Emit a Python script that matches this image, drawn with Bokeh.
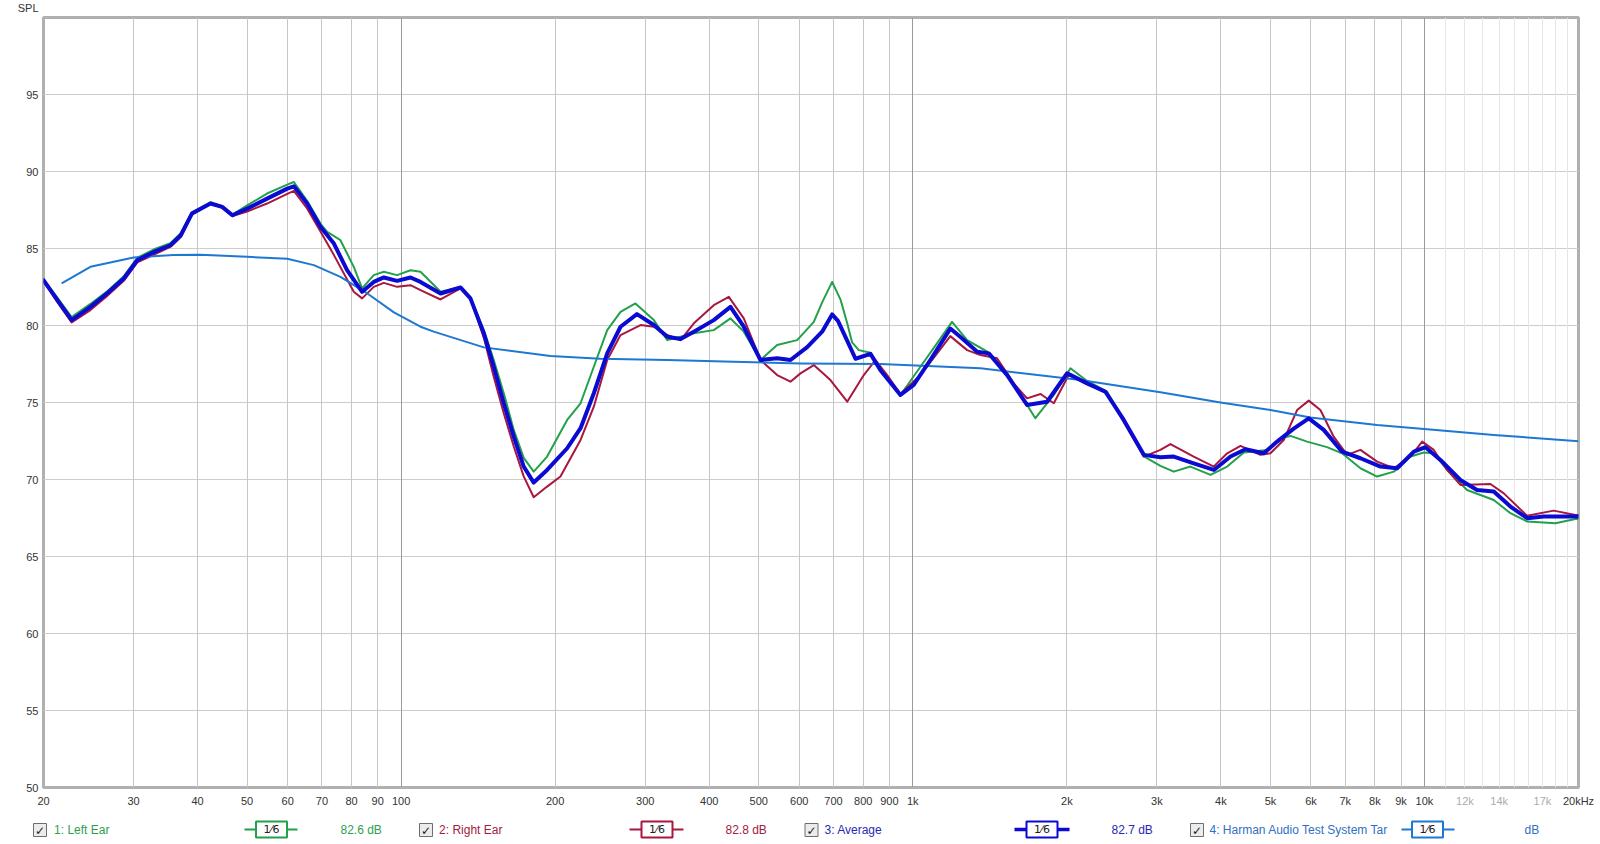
from bokeh.plotting import figure
from bokeh.models import FixedTicker, Grid, Range1d
from bokeh.layouts import column
from bokeh.embed import file_html
from bokeh.resources import INLINE
from bokeh.core.properties import value

# ---------------- data ----------------
left_freq = [20.0, 21.3, 22.7, 24.7, 26.6, 28.7, 30.5, 32.9, 35.4, 37.1, 39.0, 42.4, 44.7, 46.8, 50.0,
             54.7, 59.9, 61.7, 65.5, 69.6, 71.7, 76.1, 80.8, 83.9, 88.4, 92.5, 98.2, 104.3, 109.1, 119.4,
             130.6, 136.6, 145.1, 151.7, 158.7, 166.0, 173.6, 181.6, 192.9, 211.1, 224.2, 238.0, 252.8,
             268.4, 287.0, 311.8, 331.2, 351.6, 373.3, 408.3, 440.2, 467.4, 503.8, 543.0, 594.3, 640.5,
             665.0, 695.6, 722.0, 744.4, 761.0, 784.2, 826.6, 864.6, 945.9, 1035, 1115, 1193, 1277, 1398,
             1529, 1736, 1886, 2033, 2191, 2397, 2584, 2828, 3047, 3236, 3488, 3818, 4116, 4436, 4925, 5229,
             5470, 5897, 6450, 6903, 7496, 8082, 8711, 9392, 9970, 10427, 11073, 12113, 13660, 14724, 15874,
             18025, 19720, 20000]
left_spl = [83.0, 81.8, 80.55, 81.4, 82.2, 83.2, 84.4, 84.95, 85.35, 86.0, 87.35, 88.0, 87.75, 87.2, 87.8,
            88.57, 89.15, 89.32, 88.1, 86.6, 86.08, 85.54, 83.81, 82.41, 83.27, 83.49, 83.27, 83.59, 83.49, 82.19,
            82.51, 81.76, 79.7, 77.76, 75.6, 73.22, 71.4, 70.51, 71.49, 73.87, 74.95, 77.32, 79.7,
            80.89, 81.43, 80.35, 79.05, 79.27, 79.49, 79.7, 80.46, 79.6, 77.76, 78.73, 79.05, 80.24,
            81.5, 82.83, 81.7, 80.14, 78.9, 78.4, 78.23, 77.1, 75.49, 77.32, 78.84, 80.24, 79.05, 78.3,
            76.89, 73.98, 75.49, 77.22, 76.4, 75.7, 73.87, 71.5, 70.88, 70.51, 70.84, 70.3, 70.84, 71.75, 71.92, 72.68,
            72.83, 72.46, 72.1, 71.7, 70.73, 70.19, 70.51, 71.49, 71.75, 71.7, 70.62, 69.32, 68.67, 67.81, 67.27,
            67.16, 67.43, 67.43]

right_freq = [20.0, 21.3, 22.7, 24.7, 26.6, 28.7, 30.5, 32.9, 35.4, 37.1, 39.0, 42.4, 44.7, 46.8, 50.0,
              54.7, 59.9, 61.7, 65.5, 69.6, 73.9, 80.8, 83.9, 88.4, 92.5, 98.2, 104.3, 109.1, 119.4,
              130.6, 136.6, 145.1, 151.7, 158.7, 166.0, 173.6, 181.6, 192.9, 204.8, 224.2, 238.0, 252.8,
              268.4, 293.7, 311.8, 331.2, 351.6, 373.3, 408.3, 436.9, 467.4, 503.8, 543.0, 576.6, 603.2,
              640.5, 690.3, 744.4, 802.1, 845.4, 891.0, 945.9, 1035, 1184, 1277, 1356, 1461, 1575, 1672,
              1777, 1886, 2017, 2397, 2828, 3047, 3188, 3540, 3876, 4116, 4370, 4779, 5000, 5308, 5637,
              5941, 6260, 6647, 7060, 7496, 8082, 8711, 9392, 9897, 10427, 11073, 11754, 13456, 14290,
              15874, 17890, 19720, 20000]
right_spl = [82.9, 81.5, 80.2, 81.0, 81.9, 82.9, 84.1, 84.6, 85.1, 85.75, 87.2, 87.9, 87.65, 87.1, 87.4,
             87.92, 88.55, 88.74, 87.6, 86.08, 84.57, 82.19, 81.76, 82.51, 82.77, 82.51, 82.62, 82.3, 81.69,
             82.41, 81.76, 79.2, 76.67, 74.3, 72.14, 70.2, 68.85, 69.54, 70.19, 72.57, 74.73, 77.76,
             79.38, 80.03, 79.92, 79.38, 79.05, 80.14, 81.32, 81.86, 80.46, 77.76, 76.78, 76.35, 76.89,
             77.43, 76.46, 75.05, 76.78, 77.76, 76.78, 75.55, 76.78, 79.31, 78.4, 78.08, 77.87, 76.24, 75.27,
             75.55, 74.95, 76.78, 75.6, 71.49, 71.92, 72.3, 71.49, 70.84, 71.7, 72.18, 71.6, 71.7, 72.56, 74.51,
             75.12, 74.51, 72.78, 71.6, 71.92, 71.16, 70.73, 71.49, 72.46, 71.92, 70.62, 69.65, 69.71, 69.1,
             67.64, 67.98, 67.7, 67.7]

avg_freq = [20.0, 21.3, 22.7, 24.7, 26.6, 28.7, 30.5, 32.9, 35.4, 37.1, 39.0, 42.4, 44.7, 46.8, 50.0,
            54.7, 59.9, 61.7, 65.5, 69.6, 73.9, 78.4, 83.9, 88.4, 92.5, 98.2, 104.3, 109.1, 119.4, 130.6,
            136.6, 145.1, 151.7, 158.7, 166.0, 173.6, 181.6, 192.9, 211.1, 224.2, 238.0, 252.8, 268.4,
            289.0, 311.8, 331.2, 351.6, 373.3, 408.3, 440.2, 467.4, 503.8, 543.0, 576.7, 621.7, 665.0, 695.6,
            714.0, 733.0, 772.7, 826.6, 864.6, 945.9, 1004, 1082, 1184, 1249, 1336, 1408, 1529, 1672, 1830, 2003,
            2191, 2379, 2584, 2828, 3047, 3236, 3540, 3876, 4178, 4468, 4851, 5152, 5552, 5941, 6354, 6903,
            7496, 8204, 8844, 9534, 10045, 10745, 11754, 12670, 13660, 14724, 15874, 17100, 18300, 20000]
avg_spl = [82.94, 81.65, 80.35, 81.21, 82.08, 83.05, 84.24, 84.78, 85.21, 85.86, 87.27, 87.92, 87.7, 87.16, 87.59,
           88.24, 88.89, 89.04, 87.92, 86.4, 85.32, 83.59, 82.19, 82.83, 83.12, 82.9, 83.12, 82.83, 82.08, 82.47,
           81.76, 79.49, 77.32, 74.95, 72.78, 70.84, 69.8, 70.62, 72.03, 73.33, 75.6, 78.19, 79.92,
           80.74, 80.03, 79.27, 79.12, 79.6, 80.35, 81.21, 79.92, 77.76, 77.87, 77.76, 78.6, 79.6, 80.72,
           80.3, 79.49, 77.84, 78.16, 77.1, 75.49, 76.14, 77.76, 79.8, 79.16, 78.3, 78.19, 76.78, 74.84, 75.05, 76.9,
           76.24, 75.7, 73.87, 71.6, 71.44, 71.49, 71.05, 70.62, 71.49, 71.96, 71.7, 72.46, 73.3, 73.97, 73.22, 71.81,
           71.38, 70.84, 70.73, 71.81, 72.1, 71.27, 69.97, 69.32, 69.22, 68.24, 67.49, 67.6, 67.6, 67.6]

target_freq = [21.7, 24.7, 30.0, 35.9, 40.5, 50.0, 59.9, 67.5, 76.1, 85.9, 96.8, 109.1, 115.8, 145.1,
               195.8, 245.3, 331.2, 446.8, 603.2, 864.6, 1356, 2127, 3047, 3993, 5000, 5985, 8082, 10120,
               13660, 19720, 20000]
target_spl = [82.73, 83.81, 84.42, 84.57, 84.59, 84.46, 84.33, 83.92, 83.16, 82.08, 80.85, 79.92, 79.6, 78.58,
              78.02, 77.84, 77.76, 77.65, 77.54, 77.5, 77.22, 76.46, 75.66, 75.0, 74.51, 74.03, 73.54, 73.26,
              72.89, 72.5, 72.48]

x_ticks = [20, 30, 40, 50, 60, 70, 80, 90, 100, 200, 300, 400, 500, 600, 700, 800, 900,
           1000, 2000, 3000, 4000, 5000, 6000, 7000, 8000, 9000, 10000, 20000]
x_tick_labels = ["20", "30", "40", "50", "60", "70", "80", "90", "100", "200", "300", "400", "500",
                 "600", "700", "800", "900", "1k", "2k", "3k", "4k", "5k", "6k", "7k", "8k", "9k",
                 "10k", "20kHz"]
x_faint_ticks = [12000, 14000, 17000]
x_faint_labels = ["12k", "14k", "17k"]
y_ticks = [50, 55, 60, 65, 70, 75, 80, 85, 90, 95]

legend_names = ["1: Left Ear", "2: Right Ear", "3: Average", "4: Harman Audio Test System Tar"]
legend_levels = ["82.6 dB", "82.8 dB", "82.7 dB", "dB"]
legend_smoothing = ["1\u20446", "1\u20446", "1\u20446", "1\u20446"]

# ---------------- styles / layout ----------------
C_LEFT = "#23a04a"
C_RIGHT = "#a8173e"
C_AVG = "#0a0ad2"
C_TGT = "#1e78d2"
TXT_LEFT = "#2e9e4f"
TXT_RIGHT = "#a3203f"
TXT_AVG = "#2828b4"
TXT_TGT = "#2f70c4"
FONT = "Liberation Sans"
W = 1600
FRAME_L, FRAME_R = 43, 1578
X_LO, X_HI = 20, 20000


def strip(height, **kw):
    f = figure(width=W, height=height, toolbar_location=None, output_backend="svg",
               min_border=0, outline_line_color=None, background_fill_color="white",
               border_fill_color="white", frame_align=False, **kw)
    f.grid.visible = False
    return f


# ---- top strip: "SPL" ----
top = strip(12, x_range=Range1d(0, W), y_range=Range1d(12, 0), x_axis_type=None, y_axis_type=None)
top.text(x=[38], y=[7], text=["SPL"], text_align="right", text_baseline="middle",
         text_font=value(FONT), text_font_size="11px", text_color="#333333")

# ---- main plot ----
p = figure(width=W, height=782, x_axis_type="log", x_axis_location=None,
           x_range=Range1d(X_LO, X_HI), y_range=Range1d(50, 100),
           toolbar_location=None, output_backend="svg", frame_align=False,
           min_border_left=FRAME_L, min_border_right=W - FRAME_R, min_border_top=5, min_border_bottom=7,
           background_fill_color="white", border_fill_color="white",
           outline_line_color="#b0b0b0", outline_line_width=3)

minor_db = [v for v in range(51, 100) if v % 5 != 0]
p.add_layout(Grid(dimension=1, ticker=FixedTicker(ticks=minor_db), grid_line_color="#e3e3e3", grid_line_width=1))
p.ygrid.ticker = FixedTicker(ticks=list(range(50, 101, 5)))
p.ygrid.grid_line_color = "#cdcdcd"
p.ygrid.grid_line_width = 1

upper_k = [11000, 12000, 13000, 14000, 15000, 16000, 17000, 18000, 19000]
normal_v = [20, 30, 40, 50, 60, 70, 80, 90, 200, 300, 400, 500, 600, 700, 800, 900,
            2000, 3000, 4000, 5000, 6000, 7000, 8000, 9000]
p.add_layout(Grid(dimension=0, ticker=FixedTicker(ticks=upper_k), grid_line_color="#e6e6e6", grid_line_width=1))
p.add_layout(Grid(dimension=0, ticker=FixedTicker(ticks=normal_v), grid_line_color="#c6c6c6", grid_line_width=1))
p.add_layout(Grid(dimension=0, ticker=FixedTicker(ticks=[100, 1000, 10000]), grid_line_color="#9a9a9a", grid_line_width=1))

p.yaxis.ticker = FixedTicker(ticks=y_ticks, minor_ticks=[])
p.yaxis.axis_line_color = None
p.yaxis.major_tick_line_color = None
p.yaxis.minor_tick_line_color = None
p.yaxis.major_tick_out = 0
p.yaxis.major_tick_in = 0
p.yaxis.major_label_text_font = FONT
p.yaxis.major_label_text_font_size = "11px"
p.yaxis.major_label_text_color = "#333333"
p.yaxis.major_label_standoff = 5

p.line(left_freq, left_spl, line_color=C_LEFT, line_width=2, line_join="round")
p.line(right_freq, right_spl, line_color=C_RIGHT, line_width=2, line_join="round")
p.line(target_freq, target_spl, line_color=C_TGT, line_width=2, line_join="round")
p.line(avg_freq, avg_spl, line_color=C_AVG, line_width=4, line_join="round", line_cap="round")

# ---- tick-label strip (same log mapping as the main frame, frame widened to the page) ----
decade_px = (FRAME_R - FRAME_L) / 3.0
tk_lo = X_LO / 10 ** (FRAME_L / decade_px)
tk_hi = X_HI * 10 ** ((W - FRAME_R) / decade_px)
tk = strip(16, x_axis_type="log", x_axis_location=None, y_axis_location=None,
           x_range=Range1d(tk_lo, tk_hi), y_range=Range1d(16, 0))
tk.text(x=x_ticks, y=[6.5] * len(x_ticks), text=x_tick_labels, text_align="center", text_baseline="middle",
        text_font=value(FONT), text_font_size="11px", text_color="#333333")
tk.text(x=x_faint_ticks, y=[6.5] * len(x_faint_ticks), text=x_faint_labels, text_align="center",
        text_baseline="middle", text_font=value(FONT), text_font_size="11px", text_color="#ababab")

# ---- legend strip ----
lg = strip(34, x_range=Range1d(0, W), y_range=Range1d(34, 0), x_axis_type=None, y_axis_type=None)

box_cx = [39.5, 425.5, 811, 1196.5]
name_x = [53.6, 438.6, 824, 1209]
icon_x0 = [244, 629, 1014, 1401]
icon_x1 = [297, 683, 1069, 1454]
icon_bx = [271, 656.5, 1041.5, 1427]
level_x = [340, 725, 1111, 1524]
line_cols = [C_LEFT, C_RIGHT, C_AVG, C_TGT]
text_cols = [TXT_LEFT, TXT_RIGHT, TXT_AVG, TXT_TGT]
icon_w = [2, 2, 3.5, 2]
ly = 19

for i in range(4):
    lg.rect(x=box_cx[i], y=ly + 0.5, width=13, height=13, fill_color="#ececec",
            line_color="#6e6e6e", line_width=1)
    lg.text(x=[box_cx[i]], y=[ly + 1], text=["\u2713"], text_align="center", text_baseline="middle",
            text_font=value("DejaVu Sans"), text_font_size="12px", text_color="#202020",
            text_font_style="bold")
    lg.text(x=[name_x[i]], y=[ly], text=[legend_names[i]], text_align="left", text_baseline="middle",
            text_font=value(FONT), text_font_size="12px", text_color=text_cols[i])
    lg.segment(x0=icon_x0[i], y0=ly, x1=icon_x1[i], y1=ly, line_color=line_cols[i], line_width=icon_w[i])
    lg.rect(x=icon_bx[i], y=ly, width=31, height=16, fill_color="white",
            line_color=line_cols[i], line_width=2)
    lg.text(x=[icon_bx[i]], y=[ly], text=[legend_smoothing[i]], text_align="center", text_baseline="middle",
            text_font=value("DejaVu Sans"), text_font_size="11px", text_color="#202020")
    lg.text(x=[level_x[i]], y=[ly], text=[legend_levels[i]], text_align="left", text_baseline="middle",
            text_font=value(FONT), text_font_size="12px", text_color=text_cols[i])

layout = column(top, p, tk, lg)
open("out.html", "w").write(file_html(layout, INLINE))
